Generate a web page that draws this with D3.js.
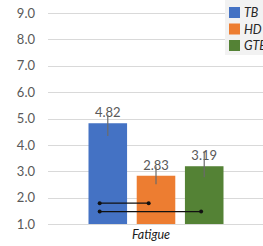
<!DOCTYPE html>
<html>
<head>
<meta charset="utf-8">
<script src="https://cdn.jsdelivr.net/npm/d3@7"></script>
<style>
  body { margin: 0; background: #fff; }
  svg { display: block; font-family: Lato, "Open Sans", sans-serif; }
</style>
</head>
<body>
<svg id="chart"></svg>
<script>
// data
var categories = ["Fatigue"];
var seriesNames = ["TB", "HD", "GTE"];
var seriesColors = ["#4472c4", "#ed7d31", "#548235"];
var values = [4.82, 2.83, 3.19];
var errUp = [0.32, 0.35, 0.57];
var errDown = [0.48, 0.32, 0.42];
var yTicks = [1, 2, 3, 4, 5, 6, 7, 8, 9];
// significance lines: from series, to series, level, end offsets (fraction of bar)
var sigFrom = ["TB", "TB"];
var sigTo = ["HD", "GTE"];
var sigLevel = [1.79, 1.47];
var sigFromFrac = [0.29, 0.29];
var sigToFrac = [0.31, 0.42];

var W = 263, H = 246;
var margin = {top: 13, right: 0, bottom: 22, left: 48};

var svg = d3.select("#chart").attr("width", W).attr("height", H);

var y = d3.scaleLinear().domain([1, 9]).range([H - margin.bottom, margin.top]);
var x0 = d3.scaleBand().domain(categories).range([margin.left, 264]).padding(0);
var groupPad = 40.5;
var x1 = d3.scaleBand().domain(seriesNames)
    .range([groupPad, x0.bandwidth() - groupPad]).paddingInner(0.2).paddingOuter(0);

// gridlines
svg.append("g").selectAll("line").data(yTicks).enter().append("line")
    .attr("x1", margin.left).attr("x2", W)
    .attr("y1", d => Math.round(y(d)) + 0.5).attr("y2", d => Math.round(y(d)) + 0.5)
    .attr("stroke", "#d9d9d9").attr("stroke-width", 1);

// y axis labels
var yAxis = d3.axisLeft(y).tickValues(yTicks).tickFormat(d3.format(".1f")).tickSize(0).tickPadding(13);
var ya = svg.append("g").attr("transform", "translate(" + margin.left + ",0)").call(yAxis);
ya.select(".domain").remove();
ya.selectAll("text").attr("font-size", 13).attr("fill", "#595959").attr("font-family", "Lato, sans-serif");

var barData = seriesNames.map((s, i) => ({
  cat: categories[0], name: s, value: values[i], up: errUp[i], down: errDown[i], color: seriesColors[i]
}));

var g = svg.append("g").attr("transform", "translate(" + x0(categories[0]) + ",0)");

// bars
g.selectAll(".bar").data(barData).enter().append("rect")
    .attr("class", "bar")
    .attr("x", d => x1(d.name))
    .attr("width", x1.bandwidth())
    .attr("y", d => y(d.value))
    .attr("height", d => y(1) - y(d.value))
    .attr("fill", d => d.color);

// value labels
g.selectAll(".label").data(barData).enter().append("text")
    .attr("class", "label")
    .attr("x", d => x1(d.name) + x1.bandwidth() / 2)
    .attr("y", d => y(d.value) - 6)
    .attr("text-anchor", "middle")
    .attr("font-size", 13)
    .attr("fill", "#595959")
    .text(d => d.value.toFixed(2));

// error bars
g.selectAll(".err").data(barData).enter().append("line")
    .attr("class", "err")
    .attr("x1", d => x1(d.name) + x1.bandwidth() / 2)
    .attr("x2", d => x1(d.name) + x1.bandwidth() / 2)
    .attr("y1", d => y(d.value + d.up))
    .attr("y2", d => y(d.value - d.down))
    .attr("stroke", "#6b6b6b").attr("stroke-width", 1.2);

// significance lines
var sigData = sigFrom.map((f, i) => ({
  xa: x1(f) + x1.bandwidth() * sigFromFrac[i],
  xb: x1(sigTo[i]) + x1.bandwidth() * sigToFrac[i],
  yv: y(sigLevel[i])
}));
var sg = g.selectAll(".sig").data(sigData).enter().append("g").attr("class", "sig");
sg.append("line")
    .attr("x1", d => d.xa).attr("x2", d => d.xb)
    .attr("y1", d => d.yv).attr("y2", d => d.yv)
    .attr("stroke", "#111").attr("stroke-width", 1.4);
sg.append("circle").attr("cx", d => d.xa).attr("cy", d => d.yv).attr("r", 2).attr("fill", "#111");
sg.append("circle").attr("cx", d => d.xb).attr("cy", d => d.yv).attr("r", 2).attr("fill", "#111");

// category label
var xAxis = d3.axisBottom(x0).tickSize(0).tickPadding(6);
var xa = svg.append("g").attr("transform", "translate(0," + y(1) + ")").call(xAxis);
xa.select(".domain").remove();
xa.selectAll("text").attr("font-size", 12.5).attr("font-style", "italic")
    .attr("fill", "#1a1a1a").attr("dx", -5).attr("font-family", "Lato, sans-serif");

// legend
var legend = svg.append("g").attr("transform", "translate(225,0)");
legend.append("rect").attr("x", 0).attr("y", 0).attr("width", 40).attr("height", 55).attr("fill", "#f2f2f2");
var li = legend.selectAll(".li").data(seriesNames).enter().append("g")
    .attr("transform", (d, i) => "translate(4," + (7 + i * 16.5) + ")");
li.append("rect").attr("width", 11).attr("height", 11).attr("fill", (d, i) => seriesColors[i]);
li.append("text").attr("x", 15).attr("y", 10).attr("font-size", 12.5)
    .attr("font-style", "italic").attr("fill", "#262626").text(d => d);
</script>
</body>
</html>
